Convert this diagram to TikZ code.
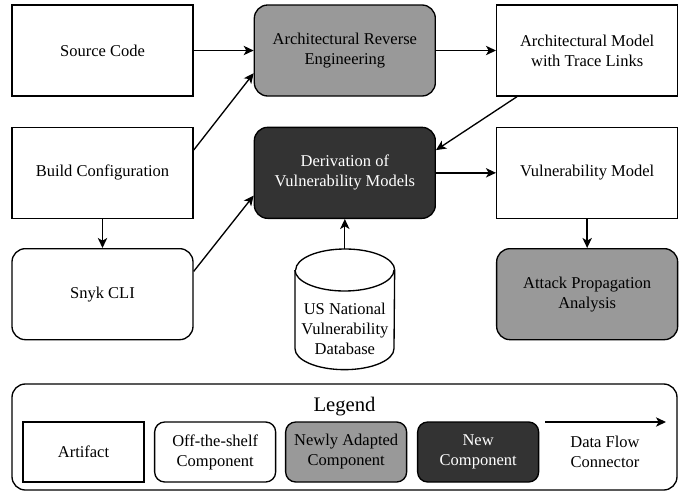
\documentclass[tikz,border=0pt]{standalone}
\usepackage{fontspec}
\setmainfont{Liberation Serif}
\usepackage{tikz}
\usetikzlibrary{positioning,arrows.meta}
\definecolor{adaptgray}{HTML}{999999}
\definecolor{newdark}{HTML}{333333}
\newcommand\boxfont{\fontsize{9.9}{12}\selectfont}
\tikzset{
	artifact/.style={draw=black, line width=0.8pt, minimum width=108.6pt, minimum height=54.6pt, align=center, font=\boxfont, inner sep=2pt},
	offshelf/.style={artifact, rounded corners=8pt},
	adapted/.style={offshelf, fill=adaptgray},
	newcomp/.style={offshelf, fill=newdark, text=white},
	legitem/.style={minimum width=72.6pt, minimum height=36pt},
	dbbox/.style={minimum width=59.4pt, minimum height=72pt, inner sep=0pt},
	dbline/.style={draw=black, line width=0.8pt},
	flow/.style={draw=black, line width=0.8pt, -{Stealth[length=6pt,width=5.6pt,inset=1.6pt]}},
}

\begin{document}
\begin{tikzpicture}[x=0.6pt, y=-0.6pt]
    \useasboundingbox (0,0) rectangle (686,493);

    \node[artifact] (src) at (102.5,50.5) {Source Code};
    \node[adapted, right=36pt of src] (revEng) {Architectural Reverse\\Engineering};
    \node[artifact, right=36pt of revEng] (archModel) {Architectural Model\\with Trace Links};

    \node[artifact, below=18pt of src] (build) {Build Configuration};
    \node[newcomp, below=18pt of revEng] (deriv) {Derivation of\\Vulnerability Models};
    \node[artifact, below=18pt of archModel] (vulnModel) {Vulnerability Model};

    \node[offshelf, below=17.4pt of build] (snyk) {Snyk CLI};
    \node[adapted, below=17.4pt of vulnModel] (attack) {Attack Propagation\\Analysis};

    % database cylinder
    \node[dbbox, below=18pt of deriv] (nvd) {};
    \draw[dbline] ([yshift=-12.6pt]nvd.north west) -- ([yshift=12.6pt]nvd.south west)
        arc[start angle=180, end angle=360, x radius=29.7pt, y radius=12.6pt]
        -- ([yshift=-12.6pt]nvd.north east)
        arc[start angle=0, end angle=180, x radius=29.7pt, y radius=12.6pt];
    \draw[dbline] ([yshift=-12.6pt]nvd.north west)
        arc[start angle=180, end angle=360, x radius=29.7pt, y radius=12.6pt];
    \node[font=\boxfont, align=center, inner sep=0pt] (nvdText) at ([yshift=-12pt]nvd.center) {US National\\Vulnerability\\Database};

    \draw[flow] (src) -- (revEng);
    \draw[flow] (revEng) -- (archModel);
    \draw[flow] ([yshift=13.65pt]build.east) -- ([yshift=-13.65pt]revEng.west);
    \draw[flow] (build) -- (snyk);
    \draw[flow] ([yshift=13.65pt]snyk.east) -- ([yshift=-13.65pt]deriv.west);
    \draw[flow] ([xshift=12.6pt]archModel.south west) -- ([yshift=13.65pt]deriv.east);
    \draw[flow] (deriv) -- (vulnModel);
    \draw[flow] (nvd) -- (deriv);
    \draw[flow] (vulnModel) -- (attack);

    % legend
    \node[draw=black, line width=0.8pt, rounded corners=8pt, minimum width=399pt, minimum height=63.6pt] (legend) at (344.5,437) {};
    \node[font=\fontsize{12.4}{14}\selectfont] (legTitle) at (344.5,407) {Legend};
    \node[artifact, legitem] (legArtifact) at (83.5,452) {Artifact};
    \node[offshelf, legitem, rounded corners=6pt, right=5.6pt of legArtifact] (legOffShelf) {Off-the-shelf\\Component};
    \node[adapted, legitem, rounded corners=6pt, right=5.2pt of legOffShelf] (legAdapted) {Newly Adapted\\Component};
    \node[newcomp, legitem, rounded corners=6pt, right=5.8pt of legAdapted] (legNew) {New\\Component};
    \coordinate (flowStart) at (545,422);
    \coordinate (flowEnd) at (666,422);
    \draw[flow] (flowStart) -- (flowEnd);
    \node[font=\boxfont, align=center] (legFlow) at (605,452) {Data Flow\\Connector};
\end{tikzpicture}
\end{document}
